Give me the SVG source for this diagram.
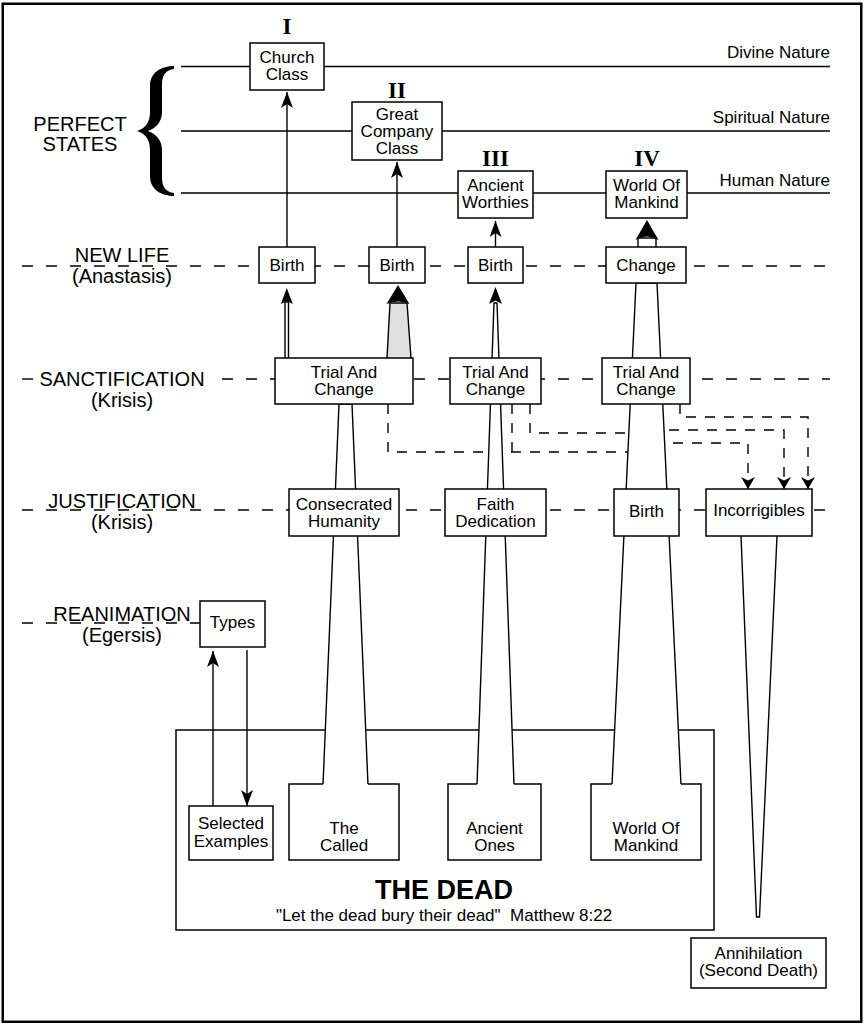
<svg xmlns="http://www.w3.org/2000/svg" width="866" height="1024" viewBox="0 0 866 1024">
<defs>
<style>
.bx{fill:#fff;stroke:#000;stroke-width:1.5}
.ln{fill:none;stroke:#000;stroke-width:1.5}
.sh{fill:#fff;stroke:#000;stroke-width:1.4}
.dl{fill:none;stroke:#000;stroke-width:1.4;stroke-dasharray:11 13}
.dc{fill:none;stroke:#000;stroke-width:1.4;stroke-dasharray:10 9}
.ar{fill:none;stroke:#000;stroke-width:1.4}
.hd{fill:#000;stroke:none}
text{font-family:"Liberation Sans",Arial,sans-serif;font-size:17px;text-anchor:middle;fill:#000}
.st{font-size:20px}
.rl{text-anchor:end}
.num{font-family:"Liberation Serif","Times New Roman",serif;font-weight:bold;font-size:23px}
.big{font-weight:bold;font-size:27px}
</style>
<marker id="ar" viewBox="0 0 16 12" refX="16" refY="6" markerWidth="16" markerHeight="12" markerUnits="userSpaceOnUse" orient="auto"><path d="M0,0 L16,6 L0,12 L4,6 Z" fill="#000"/></marker>
<marker id="ad" viewBox="0 0 12 14" refX="12" refY="7" markerWidth="12" markerHeight="14" markerUnits="userSpaceOnUse" orient="auto"><path d="M0,0 L12,7 L0,14 L3.5,7 Z" fill="#000"/></marker>
</defs>
<rect x="0" y="0" width="866" height="1024" fill="#fff"/>
<rect x="2.75" y="3.75" width="858.5" height="1018" fill="none" stroke="#000" stroke-width="2.5"/>

<g id="levels">
<path class="ln" d="M181,66.5 H830 M181,131 H830 M181,193 H830"/>
<path class="dl" d="M22,266 H830"/>
<path class="ar" d="M22,379 H33"/>
<path class="dl" d="M222,379 H830"/>
<path class="dl" d="M22,510 H830"/>
<path class="dl" d="M22,623 H200"/>
<text class="rl" x="830" y="58">Divine Nature</text>
<text class="rl" x="830" y="123">Spiritual Nature</text>
<text class="rl" x="830" y="186">Human Nature</text>
<text class="st" x="80" y="131">PERFECT</text>
<text class="st" x="80" y="151">STATES</text>
<path class="hd" d="M174,66 C162,66 150,72 150,86 L150,112 C150,122 146,128 137,131 C146,134 150,140 150,150 L150,176 C150,190 162,196 174,196 L174,193 C166,192 162,187 162,178 L162,150 C162,140 156,134 148,131 C156,128 162,122 162,112 L162,84 C162,75 166,70 174,69 Z"/>
<text class="st" x="122" y="262">NEW LIFE</text>
<text class="st" x="122" y="283">(Anastasis)</text>
<text class="st" x="122" y="386">SANCTIFICATION</text>
<text class="st" x="122" y="407">(Krisis)</text>
<text class="st" x="122" y="508">JUSTIFICATION</text>
<text class="st" x="122" y="529">(Krisis)</text>
<text class="st" x="122" y="621">REANIMATION</text>
<text class="st" x="122" y="642">(Egersis)</text>
<text class="num" x="287" y="34">I</text>
<text class="num" x="397" y="98">II</text>
<text class="num" x="495.5" y="166">III</text>
<text class="num" x="647" y="166">IV</text>
</g>

<g id="dead">
<rect class="bx" x="176" y="730" width="538" height="200"/>
<text class="big" x="444" y="899">THE DEAD</text>
<text x="444" y="921" xml:space="preserve">"Let the dead bury their dead"  Matthew 8:22</text>
</g>

<g id="connectors">
<path class="dc" d="M388,404 V452 H646 V443 H748 V489" marker-end="url(#ad)"/>
<path class="dc" d="M512,404 V452"/>
<path class="dc" d="M530,404 V433 H646 V430 H784 V489" marker-end="url(#ad)"/>
<path class="dc" d="M680,404 V417 H808 V489" marker-end="url(#ad)"/>
<path class="sh" d="M323,785 L339,404 H352 L368,785"/>
<path class="sh" d="M477,785 L494,303 H497 L514,785"/>
<path class="sh" d="M612,785 L636,283 H657 L681,785"/>
<path class="sh" d="M741,536 L756.5,917 L759.5,917 L777,536"/>
<path class="sh" d="M285,358 V302 H288.5 V358"/>
<path class="hd" d="M286.8,288 L292.8,304 L286.8,301 L280.8,304 Z"/>
<path d="M387,358 L390,303 H407 L411,358" fill="#e0e0e0" stroke="#000" stroke-width="1.4"/>
<path class="hd" d="M398,285 L409.5,304 Q398,299 386.5,304 Z"/>
<path class="hd" d="M495.5,287 L502,304 L495.5,300.5 L489,304 Z"/>
<path class="sh" d="M638,247 V238 H656 V247"/>
<path class="hd" d="M647,220 L658.5,240 Q647,233 635.5,240 Z"/>
<path class="ar" d="M287,247 V92" marker-end="url(#ar)"/>
<path class="ar" d="M397,247 V162" marker-end="url(#ar)"/>
<path class="ar" d="M495.5,247 V221" marker-end="url(#ar)"/>
<path class="ar" d="M213,806 V651" marker-end="url(#ar)"/>
<path class="ar" d="M247,650 V806" marker-end="url(#ar)"/>
</g>

<g id="church"><rect class="bx" x="250" y="43" width="74" height="47"/><text x="287" y="63">Church</text><text x="287" y="80">Class</text></g>
<g id="greatcompany"><rect class="bx" x="352" y="102" width="90" height="58"/><text x="397" y="120">Great</text><text x="397" y="137">Company</text><text x="397" y="154">Class</text></g>
<g id="worthies"><rect class="bx" x="458" y="171" width="75" height="47"/><text x="495.5" y="191">Ancient</text><text x="495.5" y="208">Worthies</text></g>
<g id="worldtop"><rect class="bx" x="606" y="171" width="81" height="47"/><text x="646.5" y="191">World Of</text><text x="646.5" y="208">Mankind</text></g>
<g id="birth1"><rect class="bx" x="259" y="247" width="56" height="36"/><text x="287" y="271">Birth</text></g>
<g id="birth2"><rect class="bx" x="369" y="247" width="56" height="36"/><text x="397" y="271">Birth</text></g>
<g id="birth3"><rect class="bx" x="468" y="247" width="55" height="36"/><text x="495.5" y="271">Birth</text></g>
<g id="change"><rect class="bx" x="606" y="247" width="80" height="36"/><text x="646" y="271">Change</text></g>
<g id="trial1"><rect class="bx" x="275" y="358" width="138" height="46"/><text x="344" y="378">Trial And</text><text x="344" y="395">Change</text></g>
<g id="trial3"><rect class="bx" x="450" y="358" width="91" height="46"/><text x="495.5" y="378">Trial And</text><text x="495.5" y="395">Change</text></g>
<g id="trial4"><rect class="bx" x="602" y="358" width="88" height="46"/><text x="646" y="378">Trial And</text><text x="646" y="395">Change</text></g>
<g id="consecrated"><rect class="bx" x="289" y="489" width="110" height="47"/><text x="344" y="510">Consecrated</text><text x="344" y="527">Humanity</text></g>
<g id="faith"><rect class="bx" x="445" y="489" width="101" height="47"/><text x="495.5" y="510">Faith</text><text x="495.5" y="527">Dedication</text></g>
<g id="birth4"><rect class="bx" x="614" y="489" width="65" height="47"/><text x="646.5" y="517">Birth</text></g>
<g id="incorrigibles"><rect class="bx" x="706" y="489" width="106" height="47"/><text x="759" y="516">Incorrigibles</text></g>
<g id="types"><rect class="bx" x="200" y="601" width="65" height="46"/><text x="232.5" y="628">Types</text></g>
<g id="selected"><rect class="bx" x="189" y="806" width="84" height="54"/><text x="231" y="829">Selected</text><text x="231" y="847">Examples</text></g>
<g id="called"><path class="bx" d="M323,784 H289 V860 H399 V784 H368"/><text x="344" y="834">The</text><text x="344" y="851">Called</text></g>
<g id="ancientones"><path class="bx" d="M477,784 H448 V860 H541 V784 H514"/><text x="494.5" y="834">Ancient</text><text x="494.5" y="851">Ones</text></g>
<g id="worlddead"><path class="bx" d="M612,784 H591 V860 H701 V784 H681"/><text x="646" y="834">World Of</text><text x="646" y="851">Mankind</text></g>
<g id="annihilation"><rect class="bx" x="691" y="938" width="135" height="50"/><text x="758.5" y="959">Annihilation</text><text x="758.5" y="976">(Second Death)</text></g>
</svg>
